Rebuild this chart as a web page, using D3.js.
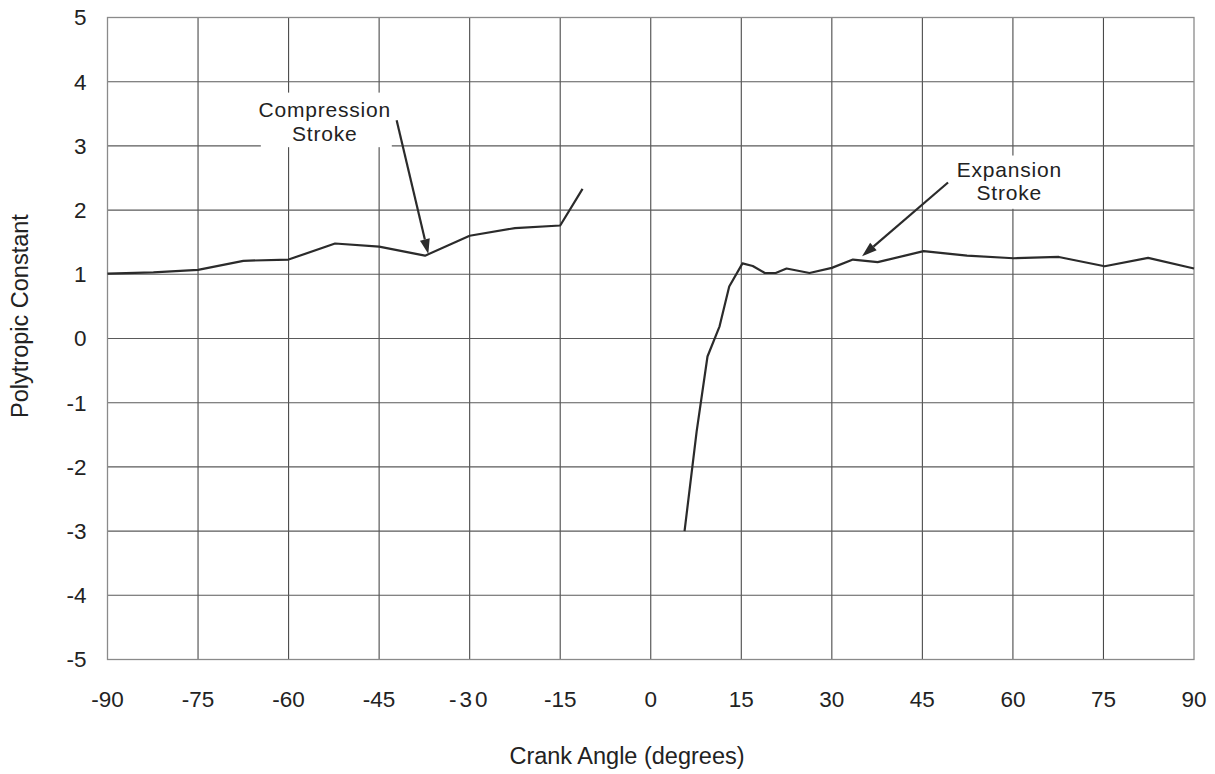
<!DOCTYPE html>
<html>
<head>
<meta charset="utf-8">
<script src="https://cdn.jsdelivr.net/npm/d3@7"></script>
<style>
  body { margin: 0; background: #fff; }
  text { font-family: "Liberation Sans", Arial, sans-serif; fill: #222; }
</style>
</head>
<body>
<div id="chart"></div>
<script>
// polytropic constant vs crank angle

// compression stroke (before TDC)
const compAngle = [-90, -82.4, -75, -67.5, -60, -52.3, -45, -37.4, -30, -22.5, -15, -11.3];
const compN = [1.01, 1.03, 1.07, 1.21, 1.23, 1.48, 1.43, 1.29, 1.6, 1.72, 1.76, 2.33];

// expansion stroke (after TDC)
const expAngle = [5.6, 7.6, 9.4, 11.4, 13.0, 15.2, 16.9, 18.9, 20.7, 22.5, 26.3, 30.0, 33.5, 37.6, 45.2, 52.4, 60.1, 67.6, 75.2, 82.4, 90];
const expN = [-3.0, -1.45, -0.28, 0.19, 0.81, 1.17, 1.13, 1.02, 1.02, 1.09, 1.02, 1.1, 1.23, 1.19, 1.36, 1.29, 1.25, 1.27, 1.125, 1.255, 1.09];

const xTicks = [-90, -75, -60, -45, -30, -15, 0, 15, 30, 45, 60, 75, 90];
const yTicks = [-5, -4, -3, -2, -1, 0, 1, 2, 3, 4, 5];

const xTitle = 'Crank Angle (degrees)';
const yTitle = 'Polytropic Constant';

// annotations, in data units
const compLabel = ['Compression', 'Stroke'];
const expLabel = ['Expansion', 'Stroke'];

const W = 1215;
const H = 774;
const margin = { top: 17.5, right: 21, bottom: 114.5, left: 107.5 };
const width = W - margin.left - margin.right;
const height = H - margin.top - margin.bottom;

const svg = d3.select('#chart')
  .append('svg')
  .attr('width', W)
  .attr('height', H);

const g = svg.append('g')
  .attr('transform', `translate(${margin.left}, ${margin.top})`);

const x = d3.scaleLinear().domain([-90, 90]).range([0, width]);
const y = d3.scaleLinear().domain([-5, 5]).range([height, 0]);

// grid
g.append('g')
  .selectAll('line')
  .data(xTicks.slice(1, -1))
  .join('line')
  .attr('x1', d => x(d)).attr('x2', d => x(d))
  .attr('y1', 0).attr('y2', height)
  .attr('stroke', '#4a4a4a')
  .attr('stroke-width', 1.1);

g.append('g')
  .selectAll('line')
  .data(yTicks.slice(1, -1))
  .join('line')
  .attr('x1', 0).attr('x2', width)
  .attr('y1', d => y(d)).attr('y2', d => y(d))
  .attr('stroke', '#5a5a5a')
  .attr('stroke-width', 1.1);

// plot border
g.append('rect')
  .attr('width', width)
  .attr('height', height)
  .attr('fill', 'none')
  .attr('stroke', '#8a8a8a')
  .attr('stroke-width', 1.3);

// tick labels
g.append('g')
  .selectAll('text')
  .data(xTicks)
  .join('text')
  .attr('x', d => x(d))
  .attr('y', height + 47)
  .attr('text-anchor', 'middle')
  .style('font-size', '22.5px')
  .style('letter-spacing', d => (d === -30 ? '3px' : null))
  .text(d => d);

g.append('g')
  .selectAll('text')
  .data(yTicks)
  .join('text')
  .attr('x', -21)
  .attr('y', d => y(d))
  .attr('dy', '0.35em')
  .attr('text-anchor', 'end')
  .style('font-size', '22.5px')
  .text(d => d);

// axis titles
svg.append('text')
  .attr('x', 627)
  .attr('y', 764)
  .attr('text-anchor', 'middle')
  .style('font-size', '23.5px')
  .text(xTitle);

svg.append('text')
  .attr('transform', 'translate(28, 316) rotate(-90)')
  .attr('text-anchor', 'middle')
  .style('font-size', '23.5px')
  .text(yTitle);

// curves
const line = d3.line()
  .x(d => x(d[0]))
  .y(d => y(d[1]));

g.append('path')
  .datum(d3.zip(compAngle, compN))
  .attr('d', line)
  .attr('fill', 'none')
  .attr('stroke', '#2b2b2b')
  .attr('stroke-width', 2.2)
  .attr('stroke-linejoin', 'round');

g.append('path')
  .datum(d3.zip(expAngle, expN))
  .attr('d', line)
  .attr('fill', 'none')
  .attr('stroke', '#2b2b2b')
  .attr('stroke-width', 2.2)
  .attr('stroke-linejoin', 'round');

// annotation: white box, text, arrow
const drawNote = (box, label, cx, base, from, to) => {
  g.append('rect')
    .attr('x', x(box[0]))
    .attr('y', y(box[3]))
    .attr('width', x(box[1]) - x(box[0]))
    .attr('height', y(box[2]) - y(box[3]))
    .attr('fill', '#fff');

  g.append('text')
    .attr('x', x(cx))
    .attr('y', y(base))
    .attr('text-anchor', 'middle')
    .style('font-size', '21px')
    .style('letter-spacing', '0.8px')
    .selectAll('tspan')
    .data(label)
    .join('tspan')
    .attr('x', x(cx))
    .attr('dy', (d, i) => (i === 0 ? 0 : 23.7))
    .text(d => d);

  const x1 = x(from[0]);
  const y1 = y(from[1]);
  const x2 = x(to[0]);
  const y2 = y(to[1]);
  const ang = Math.atan2(y2 - y1, x2 - x1);
  const len = 15;
  const half = 5;
  const bx = x2 - len * Math.cos(ang);
  const by = y2 - len * Math.sin(ang);

  g.append('line')
    .attr('x1', x1).attr('y1', y1)
    .attr('x2', bx).attr('y2', by)
    .attr('stroke', '#2b2b2b')
    .attr('stroke-width', 2.2);

  g.append('path')
    .attr('d', `M${x2},${y2}L${bx + half * Math.sin(ang)},${by - half * Math.cos(ang)}L${bx - half * Math.sin(ang)},${by + half * Math.cos(ang)}Z`)
    .attr('fill', '#2b2b2b');
};

drawNote([-64.6, -42.9, 2.98, 3.83], compLabel, -54, 3.445, [-42.1, 3.4], [-36.85, 1.315]);
drawNote([48.5, 70.5, 2.02, 2.85], expLabel, 59.4, 2.52, [49.25, 2.43], [35.0, 1.28]);
</script>
</body>
</html>
